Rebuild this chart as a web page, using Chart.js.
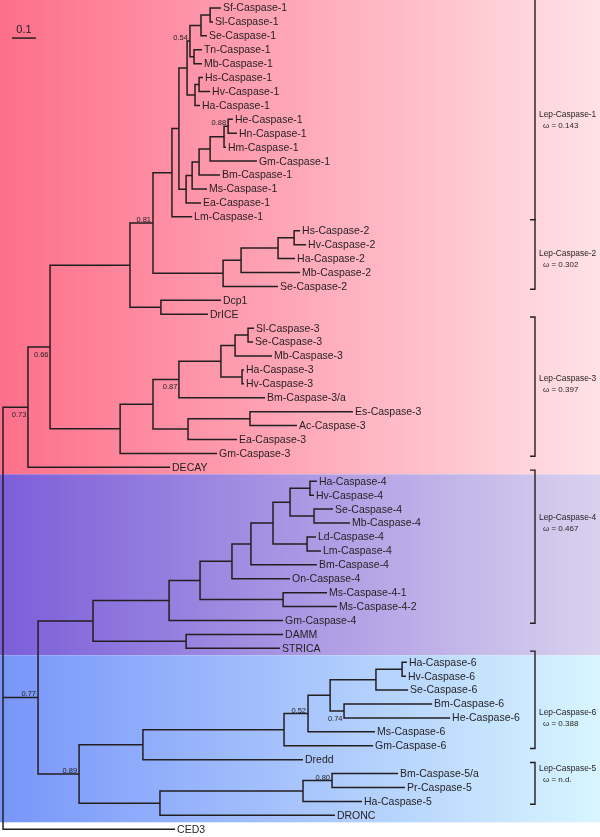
<!DOCTYPE html>
<html>
<head>
<meta charset="utf-8">
<script src="https://cdn.jsdelivr.net/npm/chart.js@4/dist/chart.umd.min.js"></script>
<style>
  html, body { margin: 0; padding: 0; background: #fff; }
  canvas { display: block; }
</style>
</head>
<body>
<canvas id="tree" width="600" height="837"></canvas>
<script>
// leaves, top to bottom, with the depth of each tip (substitutions / site)
const leafNames = [
  'Sf-Caspase-1', 'Sl-Caspase-1', 'Se-Caspase-1', 'Tn-Caspase-1', 'Mb-Caspase-1',
  'Hs-Caspase-1', 'Hv-Caspase-1', 'Ha-Caspase-1', 'He-Caspase-1', 'Hn-Caspase-1',
  'Hm-Caspase-1', 'Gm-Caspase-1', 'Bm-Caspase-1', 'Ms-Caspase-1', 'Ea-Caspase-1',
  'Lm-Caspase-1', 'Hs-Caspase-2', 'Hv-Caspase-2', 'Ha-Caspase-2', 'Mb-Caspase-2',
  'Se-Caspase-2', 'Dcp1', 'DrICE', 'Sl-Caspase-3', 'Se-Caspase-3',
  'Mb-Caspase-3', 'Ha-Caspase-3', 'Hv-Caspase-3', 'Bm-Caspase-3/a', 'Es-Caspase-3',
  'Ac-Caspase-3', 'Ea-Caspase-3', 'Gm-Caspase-3', 'DECAY', 'Ha-Caspase-4',
  'Hv-Caspase-4', 'Se-Caspase-4', 'Mb-Caspase-4', 'Ld-Caspase-4', 'Lm-Caspase-4',
  'Bm-Caspase-4', 'On-Caspase-4', 'Ms-Caspase-4-1', 'Ms-Caspase-4-2', 'Gm-Caspase-4',
  'DAMM', 'STRICA', 'Ha-Caspase-6', 'Hv-Caspase-6', 'Se-Caspase-6',
  'Bm-Caspase-6', 'He-Caspase-6', 'Ms-Caspase-6', 'Gm-Caspase-6', 'Dredd',
  'Bm-Caspase-5/a', 'Pr-Caspase-5', 'Ha-Caspase-5', 'DRONC', 'CED3'
]
const leafDepth = [
  0.908, 0.875, 0.850, 0.829, 0.829,
  0.833, 0.863, 0.821, 0.958, 0.975,
  0.929, 1.058, 0.904, 0.850, 0.825,
  0.788, 1.238, 1.263, 1.217, 1.238,
  1.146, 0.908, 0.854, 1.046, 1.042,
  1.121, 1.004, 1.004, 1.092, 1.458,
  1.225, 0.975, 0.892, 0.696, 1.308,
  1.296, 1.375, 1.446, 1.304, 1.325,
  1.308, 1.196, 1.350, 1.392, 1.167,
  1.167, 1.154, 1.683, 1.679, 1.688,
  1.788, 1.863, 1.550, 1.542, 1.250,
  1.646, 1.675, 1.496, 1.383, 0.717
]

// internal nodes: id, depth, children (top to bottom)
const nodeNames = [
  'a', 'b', 'c', 'd', 'e', 'f', 'g', 'h', 'i', 'j', 'k', 'l', 'm', 'n', 'o',
  't', 's', 'r', 'q', 'p', 'u', 'v',
  'x1', 'x2', 'x3', 'x4', 'x5', 'x7', 'x8', 'x6', 'x9', 'w', 'z',
  'p1', 'p2', 'p3', 'p4', 'p5', 'p6', 'p7', 'p8', 'p9', 'p10', 'p11', 'p12',
  'q1', 'q2', 'q3', 'q4', 'q5', 'q6', 'q7', 'q8', 'q9', 'q10', 'q11', 'y', 'root'
]
const nodeDepth = [
  0.863, 0.825, 0.796, 0.779, 0.817, 0.800, 0.767, 0.938, 0.921, 0.863, 0.817, 0.788, 0.763, 0.733, 0.704,
  1.213, 1.146, 0.992, 0.917, 0.625, 0.658, 0.529,
  1.021, 0.967, 0.996, 0.908, 0.733, 1.029, 0.771, 0.625, 0.488, 0.196, 0.104,
  1.279, 1.296, 1.196, 1.267, 1.125, 1.033, 0.954, 1.167, 0.821, 0.692, 0.763, 0.375,
  1.663, 1.554, 1.421, 1.363, 1.271, 1.171, 0.583, 1.371, 1.250, 0.654, 0.317, 0.146, 0
]
const nodeChildren = [
  ['Sf-Caspase-1', 'Sl-Caspase-1'], ['a', 'Se-Caspase-1'], ['Tn-Caspase-1', 'Mb-Caspase-1'],
  ['b', 'c'], ['Hs-Caspase-1', 'Hv-Caspase-1'], ['e', 'Ha-Caspase-1'], ['d', 'f'],
  ['He-Caspase-1', 'Hn-Caspase-1'], ['h', 'Hm-Caspase-1'], ['i', 'Gm-Caspase-1'],
  ['j', 'Bm-Caspase-1'], ['k', 'Ms-Caspase-1'], ['l', 'Ea-Caspase-1'], ['g', 'm'], ['n', 'Lm-Caspase-1'],
  ['Hs-Caspase-2', 'Hv-Caspase-2'], ['t', 'Ha-Caspase-2'], ['s', 'Mb-Caspase-2'], ['r', 'Se-Caspase-2'],
  ['o', 'q'], ['Dcp1', 'DrICE'], ['p', 'u'],
  ['Sl-Caspase-3', 'Se-Caspase-3'], ['x1', 'Mb-Caspase-3'], ['Ha-Caspase-3', 'Hv-Caspase-3'],
  ['x2', 'x3'], ['x4', 'Bm-Caspase-3/a'], ['Es-Caspase-3', 'Ac-Caspase-3'], ['x7', 'Ea-Caspase-3'],
  ['x5', 'x8'], ['x6', 'Gm-Caspase-3'], ['v', 'x9'], ['w', 'DECAY'],
  ['Ha-Caspase-4', 'Hv-Caspase-4'], ['Se-Caspase-4', 'Mb-Caspase-4'], ['p1', 'p2'],
  ['Ld-Caspase-4', 'Lm-Caspase-4'], ['p3', 'p4'], ['p5', 'Bm-Caspase-4'], ['p6', 'On-Caspase-4'],
  ['Ms-Caspase-4-1', 'Ms-Caspase-4-2'], ['p7', 'p8'], ['p9', 'Gm-Caspase-4'], ['DAMM', 'STRICA'], ['p10', 'p11'],
  ['Ha-Caspase-6', 'Hv-Caspase-6'], ['q1', 'Se-Caspase-6'], ['Bm-Caspase-6', 'He-Caspase-6'],
  ['q2', 'q3'], ['q4', 'Ms-Caspase-6'], ['q5', 'Gm-Caspase-6'], ['q6', 'Dredd'],
  ['Bm-Caspase-5/a', 'Pr-Caspase-5'], ['q8', 'Ha-Caspase-5'], ['q9', 'DRONC'], ['q7', 'q10'],
  ['p12', 'q11'], ['z', 'y', 'CED3']
]

// posterior support values shown on nodes
const supportNodes = ['d', 'h', 'p', 'w', 'x5', 'z', 'y', 'q5', 'q3', 'q11', 'q8']
const supportValues = ['0.54', '0.88', '0.81', '0.66', '0.87', '0.73', '0.77', '0.52', '0.74', '0.89', '0.80']
const supportBelow = [false, false, false, true, true, true, false, false, true, false, false]

// coloured clade bands
const bandFirst = ['Sf-Caspase-1', 'Ha-Caspase-4', 'Ha-Caspase-6']
const bandLast = ['DECAY', 'STRICA', 'DRONC']

// bracketed groups with dN/dS
const groupNames = ['Lep-Caspase-1', 'Lep-Caspase-2', 'Lep-Caspase-3', 'Lep-Caspase-4', 'Lep-Caspase-6', 'Lep-Caspase-5']
const groupOmega = ['0.143', '0.302', '0.397', '0.467', '0.388', 'n.d.']
const groupFirst = ['Sf-Caspase-1', 'Hs-Caspase-2', 'Sl-Caspase-3', 'Ha-Caspase-4', 'Ha-Caspase-6', 'Bm-Caspase-5/a']
const groupLast = ['Lm-Caspase-1', 'Se-Caspase-2', 'Gm-Caspase-3', 'Gm-Caspase-4', 'Gm-Caspase-6', 'Ha-Caspase-5']
const groupAnchor = ['He-Caspase-1', 'Ha-Caspase-2', 'Hv-Caspase-3', 'Mb-Caspase-4', 'He-Caspase-6', 'Bm-Caspase-5/a']

const scaleBar = 0.1

const INK = '#231f20'
const BAND_STOPS = [
  ['rgb(253,111,138)', 'rgb(255,226,230)'],
  ['rgb(124,94,217)', 'rgb(217,209,238)'],
  ['rgb(120,149,250)', 'rgb(216,245,255)'],
]
const FONT = '"Liberation Sans", Arial, sans-serif'

const depth = {}, row = {}, kids = {}
leafNames.forEach((n, i) => { depth[n] = leafDepth[i]; row[n] = i })
nodeNames.forEach((n, i) => { depth[n] = nodeDepth[i]; kids[n] = nodeChildren[i] })

function rowOf(n) {
  if (n in row) return row[n]
  const k = kids[n]
  row[n] = (rowOf(k[0]) + rowOf(k[k.length - 1])) / 2
  return row[n]
}

const GAP = { x: null, y: null }
const segs = []
nodeNames.forEach(n => {
  const k = kids[n], x = depth[n]
  const first = k[0], last = k[k.length - 1]
  segs.push(
    { x: depth[first], y: rowOf(first) }, { x, y: rowOf(first) },
    { x, y: rowOf(last) }, { x: depth[last], y: rowOf(last) }, GAP)
  k.slice(1, -1).forEach(c => segs.push({ x, y: rowOf(c) }, { x: depth[c], y: rowOf(c) }, GAP))
})

const bandsPlugin = {
  id: 'bands',
  beforeDatasetsDraw(chart) {
    const { ctx, chartArea: ca, scales: { y } } = chart
    ctx.save()
    bandFirst.forEach((f, i) => {
      const top = row[f] === 0 ? ca.top : y.getPixelForValue(row[f] - 0.5)
      const bot = y.getPixelForValue(row[bandLast[i]] + 0.5)
      const g = ctx.createLinearGradient(ca.left, 0, ca.right, 0)
      g.addColorStop(0, BAND_STOPS[i][0])
      g.addColorStop(1, BAND_STOPS[i][1])
      ctx.fillStyle = g
      ctx.fillRect(ca.left, top, ca.right - ca.left, bot - top)
    })
    ctx.restore()
  }
}

const labelsPlugin = {
  id: 'treeLabels',
  afterDatasetsDraw(chart) {
    const { ctx, scales: { x, y } } = chart
    ctx.save()
    ctx.fillStyle = INK
    ctx.strokeStyle = INK

    // tip labels
    ctx.font = `10.5px ${FONT}`
    ctx.textAlign = 'left'
    ctx.textBaseline = 'middle'
    leafNames.forEach((n, i) => {
      ctx.fillText(n, x.getPixelForValue(leafDepth[i]) + 2, y.getPixelForValue(i) + 0.5)
    })

    // support values
    ctx.font = `7.5px ${FONT}`
    ctx.textAlign = 'right'
    ctx.textBaseline = 'alphabetic'
    supportNodes.forEach((n, i) => {
      const px = x.getPixelForValue(depth[n])
      const py = y.getPixelForValue(rowOf(n))
      if (supportBelow[i]) ctx.fillText(supportValues[i], px - 1.5, py + 10)
      else ctx.fillText(supportValues[i], px - 2, py - 1)
    })

    // scale bar
    const sx0 = x.getPixelForValue(0.0375), sx1 = x.getPixelForValue(0.0375 + scaleBar)
    const sy = y.getPixelForValue(2.16)
    ctx.lineWidth = 1.5
    ctx.beginPath(); ctx.moveTo(sx0, sy); ctx.lineTo(sx1, sy); ctx.stroke()
    ctx.font = `11px ${FONT}`
    ctx.textAlign = 'center'
    ctx.textBaseline = 'middle'
    ctx.fillText(String(scaleBar), (sx0 + sx1) / 2, sy - 8)

    // group brackets
    const bx = 535
    groupNames.forEach((g, i) => {
      const top = y.getPixelForValue(row[groupFirst[i]] - 0.8)
      const bot = y.getPixelForValue(row[groupLast[i]] + 0.2)
      ctx.lineWidth = 1.4
      ctx.beginPath()
      ctx.moveTo(bx - 5, top); ctx.lineTo(bx, top); ctx.lineTo(bx, bot); ctx.lineTo(bx - 5, bot)
      ctx.stroke()
      const ay = y.getPixelForValue(row[groupAnchor[i]])
      ctx.textAlign = 'left'
      ctx.font = `8.4px ${FONT}`
      ctx.fillText(g, bx + 4, ay - 5)
      ctx.font = `8px ${FONT}`
      ctx.fillText(`\u03c9 = ${groupOmega[i]}`, bx + 8, ay + 6)
    })
    ctx.restore()
  }
}

new Chart(document.getElementById('tree'), {
  type: 'scatter',
  data: {
    datasets: [{
      data: segs,
      showLine: true,
      spanGaps: false,
      borderColor: INK,
      borderWidth: 1.5,
      borderJoinStyle: 'miter',
      borderCapStyle: 'butt',
      pointRadius: 0,
      tension: 0,
    }],
  },
  options: {
    responsive: false,
    animation: false,
    devicePixelRatio: 1,
    events: [],
    layout: { padding: 0 },
    plugins: { legend: { display: false }, tooltip: { enabled: false } },
    scales: {
      x: { type: 'linear', min: -0.0125, max: 2.4875, display: false },
      y: { type: 'linear', min: -0.575, max: 59.555, reverse: true, display: false },
    },
  },
  plugins: [bandsPlugin, labelsPlugin],
})
</script>
</body>
</html>
